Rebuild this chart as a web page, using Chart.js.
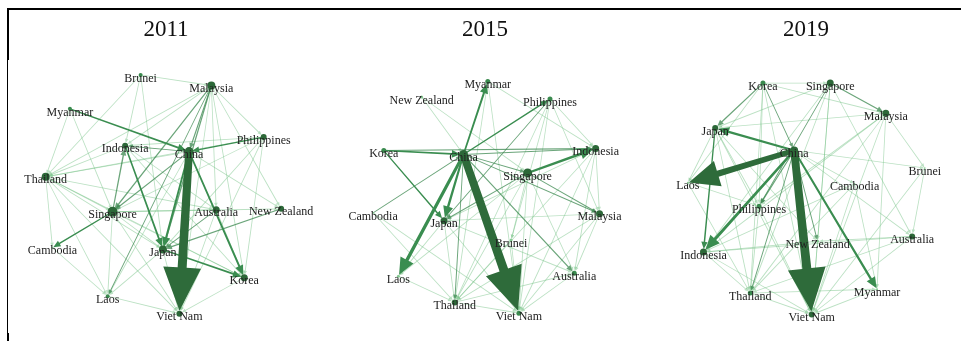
<!DOCTYPE html>
<html>
<head>
<meta charset="utf-8">
<script src="https://cdn.jsdelivr.net/npm/chart.js@4"></script>
<style>
  body { margin: 0; background: #fff; }
  #wrap { position: relative; width: 961px; height: 341px; overflow: hidden; }
  canvas { position: absolute; top: 0; }
  .title { position: absolute; top: 16px; width: 320px; text-align: center;
           font-family: 'Liberation Serif', 'Times New Roman', serif; font-size: 23px; color: #111; }
  .rule { position: absolute; background: #000; }
</style>
</head>
<body>
<div id="wrap">
  <div class="rule" style="left:7px;top:8px;width:954px;height:2px"></div>
  <div class="rule" style="left:7px;top:8px;width:2px;height:52px"></div>
  <div class="rule" style="left:7px;top:60px;width:1px;height:281px"></div>
  <div class="rule" style="left:7px;top:333px;width:2px;height:8px"></div>
  <canvas id="c2011" width="320" height="341" style="left:0px"></canvas>
  <canvas id="c2015" width="320" height="341" style="left:320px"></canvas>
  <canvas id="c2019" width="321" height="341" style="left:640px"></canvas>
  <div class="title" style="left:6px">2011</div>
  <div class="title" style="left:325px">2015</div>
  <div class="title" style="left:646px">2019</div>
</div>
<script>
// ---- 2011 ----
const names2011 = ['Brunei','Malaysia','Myanmar','Philippines','Indonesia','China','Thailand','Singapore','Australia','New Zealand','Cambodia','Japan','Korea','Laos','Viet Nam'];
const x2011 = [140, 213, 67, 267, 124, 190, 42, 111, 218, 285, 49, 163, 247, 106, 180];
const y2011 = [72, 83, 107, 136, 145, 151, 177, 213, 211, 210, 250, 252, 281, 300, 318];
const size2011 = [2, 4, 2, 3, 3, 4.5, 4, 5, 3.5, 3, 1, 4, 3.5, 2, 3];
const edges2011 = [
  ['China','Viet Nam',9], ['Myanmar','China',1.8], ['China','Japan',2], ['China','Korea',2],
  ['Indonesia','Japan',1.8], ['Japan','Korea',1.8], ['Malaysia','Singapore',1.4], ['Malaysia','Japan',1.4],
  ['China','Singapore',1.2], ['Singapore','Cambodia',1.5], ['Singapore','Indonesia',1.4], ['Philippines','China',1.5],
  ['New Zealand','Japan',1.3], ['Malaysia','Laos',1], ['China','Indonesia',1], ['Malaysia','China',1.2], ['Australia','Japan',1],
  ['Brunei','Malaysia',0.6], ['Brunei','Indonesia',0.6], ['Brunei','Thailand',0.6], ['Brunei','Japan',0.6],
  ['Myanmar','Thailand',0.6], ['Myanmar','Singapore',0.6], ['Malaysia','Thailand',0.6], ['Malaysia','Indonesia',0.6],
  ['Malaysia','Philippines',0.6], ['Malaysia','Australia',0.6], ['Malaysia','New Zealand',0.6], ['Malaysia','Korea',0.6],
  ['Malaysia','Viet Nam',0.6], ['Philippines','Singapore',0.6], ['Philippines','Thailand',0.6], ['Philippines','Indonesia',0.6],
  ['Philippines','Japan',0.6], ['Philippines','Korea',0.6], ['Philippines','Viet Nam',0.6], ['Indonesia','Thailand',0.6],
  ['Indonesia','Australia',0.6], ['Indonesia','Korea',0.6], ['China','Thailand',0.6], ['China','Laos',0.6],
  ['China','New Zealand',0.6], ['Thailand','Singapore',0.6], ['Thailand','Cambodia',0.6], ['Thailand','Laos',0.6],
  ['Thailand','Japan',0.6], ['Thailand','Viet Nam',0.6], ['Thailand','Korea',0.6], ['Thailand','Australia',0.6],
  ['Singapore','Australia',0.6], ['Singapore','New Zealand',0.6], ['Singapore','Japan',0.6], ['Singapore','Viet Nam',0.6],
  ['Singapore','Korea',0.6], ['Singapore','Laos',0.6], ['Australia','Viet Nam',0.6], ['Australia','Korea',0.6],
  ['Japan','Viet Nam',0.6], ['Laos','Viet Nam',0.6], ['Korea','Viet Nam',0.6], ['Japan','Laos',0.6], ['Cambodia','Laos',0.6]
];

// ---- 2015 ----
const names2015 = ['Myanmar','New Zealand','Philippines','Korea','China','Indonesia','Singapore','Cambodia','Japan','Malaysia','Brunei','Laos','Australia','Thailand','Viet Nam'];
const x2015 = [168, 100, 232, 61, 143, 279, 209, 50, 123, 283, 192, 76, 257, 134, 200];
const y2015 = [79, 95, 97, 150, 154, 148, 173, 214, 222, 215, 242, 279, 276, 306, 317];
const size2015 = [2.5, 1.5, 2.5, 2.5, 4.5, 3.5, 4.5, 0.8, 3.5, 3.5, 1.5, 1.5, 2.5, 3, 2.5];
const edges2015 = [
  ['China','Viet Nam',9], ['China','Laos',3.5], ['Singapore','Indonesia',2.6], ['China','Japan',2.4],
  ['China','Myanmar',2], ['Korea','China',1.8], ['Korea','Indonesia',1.2], ['Korea','Japan',1.5],
  ['China','Philippines',1.5], ['China','Australia',1.3], ['China','Singapore',1], ['China','Malaysia',1.1],
  ['China','Indonesia',1.2], ['Singapore','Malaysia',1], ['Philippines','Japan',1], ['Cambodia','China',1],
  ['Singapore','Japan',1], ['China','Thailand',1],
  ['New Zealand','China',0.6], ['New Zealand','Singapore',0.6], ['Myanmar','Indonesia',0.6], ['Myanmar','Thailand',0.6],
  ['Myanmar','Viet Nam',0.6], ['Philippines','Indonesia',0.6], ['Philippines','Malaysia',0.6], ['Philippines','Viet Nam',0.6],
  ['Philippines','Thailand',0.6], ['Philippines','Brunei',0.6], ['Indonesia','Malaysia',0.6], ['Indonesia','Australia',0.6],
  ['Indonesia','Viet Nam',0.6], ['Indonesia','Thailand',0.6], ['Indonesia','Japan',0.6], ['Singapore','Viet Nam',0.6],
  ['Singapore','Thailand',0.6], ['Singapore','Australia',0.6], ['Singapore','Laos',0.6], ['Singapore','Brunei',0.6],
  ['Malaysia','Australia',0.6], ['Malaysia','Viet Nam',0.6], ['Malaysia','Thailand',0.6], ['Malaysia','Japan',0.6],
  ['Cambodia','Thailand',0.6], ['Cambodia','Viet Nam',0.6], ['Japan','Thailand',0.6], ['Japan','Viet Nam',0.6],
  ['Japan','Australia',0.6], ['Laos','Thailand',0.6], ['Thailand','Viet Nam',0.6], ['Australia','Viet Nam',0.6],
  ['Thailand','Australia',0.6], ['Brunei','Viet Nam',0.6], ['Brunei','Thailand',0.6], ['Japan','Laos',0.6]
];

// ---- 2019 ----
const names2019 = ['Korea','Singapore','Malaysia','Japan','China','Brunei','Laos','Cambodia','Philippines','Australia','New Zealand','Indonesia','Thailand','Myanmar','Viet Nam'];
const x2019 = [122, 191, 248, 73, 154, 288, 45, 216, 118, 275, 178, 61, 109, 239, 172];
const y2019 = [81, 81, 112, 127, 150, 168, 183, 184, 207, 238, 243, 254, 296, 292, 318];
const size2019 = [2.5, 3.5, 3.5, 3, 4, 0.8, 1, 0.8, 2.5, 3, 1.5, 3.5, 2.5, 1, 3];
const edges2019 = [
  ['China','Viet Nam',9], ['China','Laos',6.3], ['China','Indonesia',3], ['China','Myanmar',2.3],
  ['China','Japan',2.3], ['Japan','Indonesia',1.5], ['Korea','Japan',1.3], ['Singapore','Malaysia',1.3],
  ['China','Philippines',1.2], ['China','Thailand',1], ['Singapore','Philippines',1], ['Korea','China',1],
  ['China','New Zealand',1],
  ['Korea','Singapore',0.6], ['Korea','Malaysia',0.6], ['Korea','Philippines',0.6], ['Korea','Thailand',0.6],
  ['Korea','Viet Nam',0.6], ['Korea','Laos',0.6], ['Singapore','Japan',0.6], ['Singapore','Viet Nam',0.6],
  ['Singapore','Indonesia',0.6], ['Singapore','Thailand',0.6], ['Singapore','New Zealand',0.6], ['Singapore','Australia',0.6],
  ['Malaysia','Japan',0.6], ['Malaysia','Indonesia',0.6], ['Malaysia','Viet Nam',0.6], ['Malaysia','Thailand',0.6],
  ['Malaysia','Brunei',0.6], ['Malaysia','Philippines',0.6], ['Malaysia','Myanmar',0.6], ['Japan','Laos',0.6],
  ['Japan','Philippines',0.6], ['Japan','Thailand',0.6], ['Japan','Viet Nam',0.6], ['Japan','New Zealand',0.6],
  ['China','Brunei',0.6], ['China','Cambodia',0.6], ['China','Australia',0.6], ['Brunei','Australia',0.6],
  ['Brunei','Viet Nam',0.6], ['Cambodia','Indonesia',0.6], ['Cambodia','Thailand',0.6], ['Cambodia','Viet Nam',0.6],
  ['Cambodia','Myanmar',0.6], ['Laos','Thailand',0.6], ['Laos','Philippines',0.6], ['Philippines','Thailand',0.6],
  ['Philippines','Viet Nam',0.6], ['Australia','Indonesia',0.6], ['Australia','Thailand',0.6], ['Australia','Viet Nam',0.6],
  ['Australia','New Zealand',0.6], ['Indonesia','Thailand',0.6], ['Indonesia','Viet Nam',0.6], ['Indonesia','New Zealand',0.6],
  ['Thailand','Viet Nam',0.6], ['Thailand','Myanmar',0.6], ['Myanmar','Viet Nam',0.6], ['New Zealand','Viet Nam',0.6]
];

function edgeColor(w) {
  if (w >= 5) return '#2e6b3a';
  if (w >= 1.5) return '#3a8d50';
  if (w >= 1) return 'rgba(58,135,78,0.75)';
  return 'rgba(120,195,135,0.5)';
}
function nodeColor(r) {
  if (r >= 3) return '#2c6838';
  if (r >= 2) return '#3a8a4e';
  return '#86c993';
}

// edges drawn through the chart scales, with tapered shafts and arrow heads
const edgePlugin = {
  id: 'edges',
  beforeDatasetsDraw(chart) {
    const { ctx, scales: { x, y } } = chart;
    const net = chart.options.plugins.edges;
    const sorted = net.edges.slice().sort((a, b) => a[2] - b[2]);
    ctx.save();
    sorted.forEach(([from, to, w]) => {
      const i = net.names.indexOf(from), j = net.names.indexOf(to);
      const x0 = x.getPixelForValue(net.xs[i]), y0 = y.getPixelForValue(net.ys[i]);
      const x1 = x.getPixelForValue(net.xs[j]), y1 = y.getPixelForValue(net.ys[j]);
      const len = Math.hypot(x1 - x0, y1 - y0);
      const ux = (x1 - x0) / len, uy = (y1 - y0) / len;
      const nx = -uy, ny = ux;
      const tipBack = Math.min(net.sizes[j], 3);
      const tx = x1 - ux * tipBack, ty = y1 - uy * tipBack;
      const headLen = Math.max(4, w * 4.8), headW = Math.max(3.5, w * 4.2);
      const bx = tx - ux * headLen, by = ty - uy * headLen;
      const sw = Math.max(w, 0.9);
      const w0 = sw * 0.85 / 2, w1 = sw / 2;
      ctx.fillStyle = edgeColor(w);
      ctx.beginPath();
      ctx.moveTo(x0 + nx * w0, y0 + ny * w0);
      ctx.lineTo(bx + nx * w1, by + ny * w1);
      ctx.lineTo(bx + nx * headW / 2, by + ny * headW / 2);
      ctx.lineTo(tx, ty);
      ctx.lineTo(bx - nx * headW / 2, by - ny * headW / 2);
      ctx.lineTo(bx - nx * w1, by - ny * w1);
      ctx.lineTo(x0 - nx * w0, y0 - ny * w0);
      ctx.closePath();
      ctx.fill();
    });
    ctx.restore();
  },
  afterDatasetsDraw(chart) {
    const { ctx, scales: { x, y } } = chart;
    const net = chart.options.plugins.edges;
    ctx.save();
    ctx.font = "12px 'Liberation Serif', 'Times New Roman', serif";
    ctx.fillStyle = '#222';
    ctx.textAlign = 'center';
    ctx.textBaseline = 'middle';
    net.names.forEach((n, i) => {
      ctx.fillText(n, x.getPixelForValue(net.xs[i]), y.getPixelForValue(net.ys[i]) + 3.5);
    });
    ctx.restore();
  }
};

function drawNetwork(id, names, xs, ys, sizes, edges, width) {
  new Chart(document.getElementById(id), {
    type: 'scatter',
    data: {
      datasets: [{
        data: names.map((n, i) => ({ x: xs[i], y: ys[i] })),
        pointRadius: sizes,
        pointBackgroundColor: sizes.map(nodeColor),
        pointBorderWidth: 0,
        clip: false
      }]
    },
    options: {
      responsive: false,
      animation: false,
      events: [],
      layout: { padding: 0 },
      plugins: {
        legend: { display: false },
        tooltip: { enabled: false },
        edges: { names, xs, ys, sizes, edges }
      },
      scales: {
        x: { type: 'linear', min: 0, max: width, display: false },
        y: { type: 'linear', min: 0, max: 341, reverse: true, display: false }
      }
    },
    plugins: [edgePlugin]
  });
}

drawNetwork('c2011', names2011, x2011, y2011, size2011, edges2011, 320);
drawNetwork('c2015', names2015, x2015, y2015, size2015, edges2015, 320);
drawNetwork('c2019', names2019, x2019, y2019, size2019, edges2019, 321);
</script>
</body>
</html>
